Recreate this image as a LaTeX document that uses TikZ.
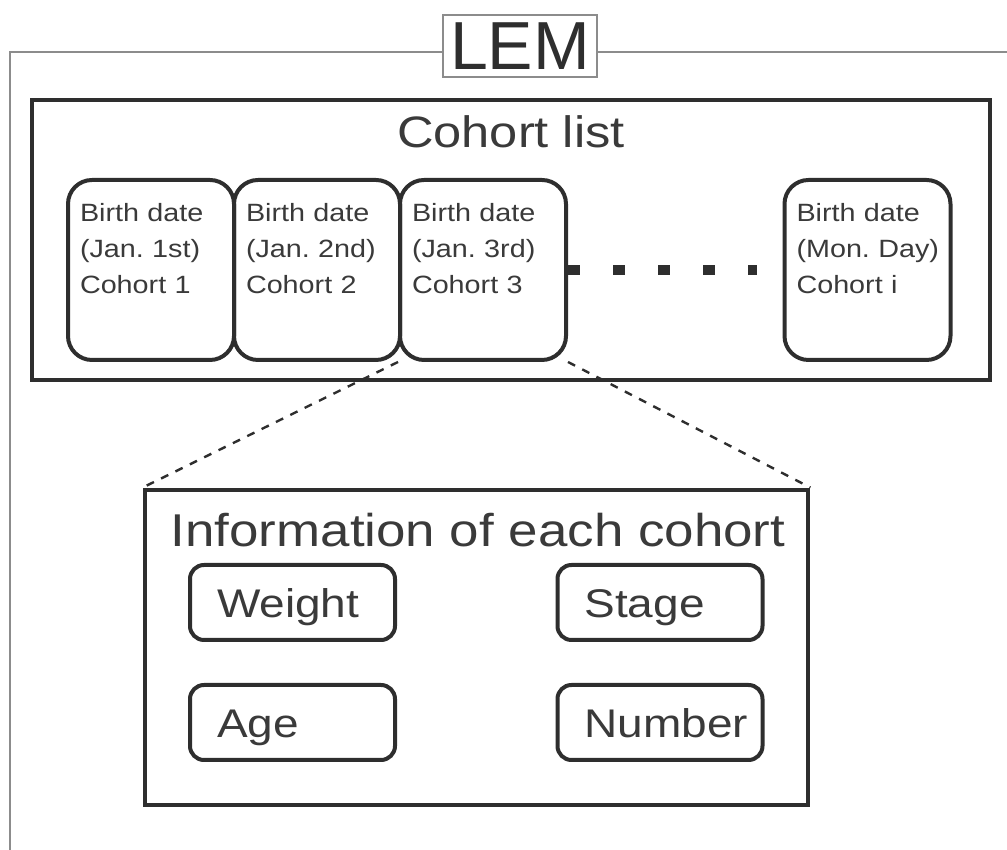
\documentclass[tikz,border=0pt]{standalone}
\usepackage{fontspec}
\setmainfont{Liberation Sans}
\newfontfamily\widefont[FakeStretch=1.15]{Liberation Sans}
\usetikzlibrary{positioning}
\definecolor{ink}{HTML}{2E2E2E}
\definecolor{txt}{HTML}{3A3A3A}
\definecolor{framegray}{HTML}{8C8C8C}

\begin{document}
\begin{tikzpicture}[x=0.5pt, y=0.5pt, node distance=83pt,
    outer/.style={draw=framegray, line width=0.9pt},
    bigbox/.style={draw=ink, line width=2.4pt, inner sep=0pt},
    title/.style={text=txt, anchor=base, inner sep=0pt},
    cohort/.style={draw=ink, line width=2pt, rounded corners=12pt, inner xsep=6pt, inner ysep=0pt,
      text width=71pt, align=left, text height=21pt, text depth=69pt, text=txt,
      font=\widefont\fontsize{12.5}{18}\selectfont},
    item/.style={draw=ink, line width=2pt, rounded corners=7pt, minimum height=37.5pt, inner xsep=13.5pt,
      text width=75.5pt, align=left, text height=15.5pt, text depth=0pt, text=txt,
      font=\widefont\fontsize{20}{24}\selectfont}]
      \useasboundingbox (0,0) rectangle (1007,850);

      \node[draw=framegray, line width=0.8pt, minimum width=77pt, minimum height=31pt, inner sep=0pt,
        text=ink, font=\fontsize{34}{40}\selectfont] (lem) at (520,804) {LEM};
      \coordinate (ftl) at (10,798);
      \coordinate (fbl) at (10,0);
      \coordinate (ftr) at (1007,798);
      \draw[outer] (lem.west |- ftl) -- (ftl) -- (fbl);
      \draw[outer] (lem.east |- ftl) -- (ftr);

      \node[bigbox, minimum width=479pt, minimum height=140pt] (list) at (511,610) {};
      \node[title, font=\widefont\fontsize{22}{26}\selectfont] (listtitle) at (511,702) {Cohort list};

      \node[cohort] (c1) at (151,580) {Birth date\\(Jan.~1st)\\Cohort 1};
      \node[cohort, right of=c1] (c2) {Birth date\\(Jan.~2nd)\\Cohort 2};
      \node[cohort, right of=c2] (c3) {Birth date\\(Jan.~3rd)\\Cohort 3};
      \node[cohort] (ci) at (867.5,580) {Birth date\\(Mon.~Day)\\Cohort i};
      \coordinate (dotend) at (757,580);
      \draw[ink, line width=5pt, dash pattern=on 6pt off 16.5pt] (c3.east) -- (dotend);

      \node[bigbox, minimum width=331.5pt, minimum height=157.5pt] (info) at (476.5,202.5) {};
      \node[title, font=\widefont\fontsize{23}{28}\selectfont] (infotitle) at (478,303) {Information of each cohort};

      \node[item] (weight) at (292.5,247.5) {Weight};
      \node[item] (stage) at (660,247.5) {Stage};
      \node[item] (age) at (292.5,127.5) {Age};
      \node[item] (number) at (660,127.5) {Number};

      \draw[ink, line width=1.2pt, dash pattern=on 4pt off 4pt] (c3.south west) -- (info.north west);
      \draw[ink, line width=1.2pt, dash pattern=on 4pt off 4pt] (c3.south east) -- (info.north east);
    \end{tikzpicture}
\end{document}
